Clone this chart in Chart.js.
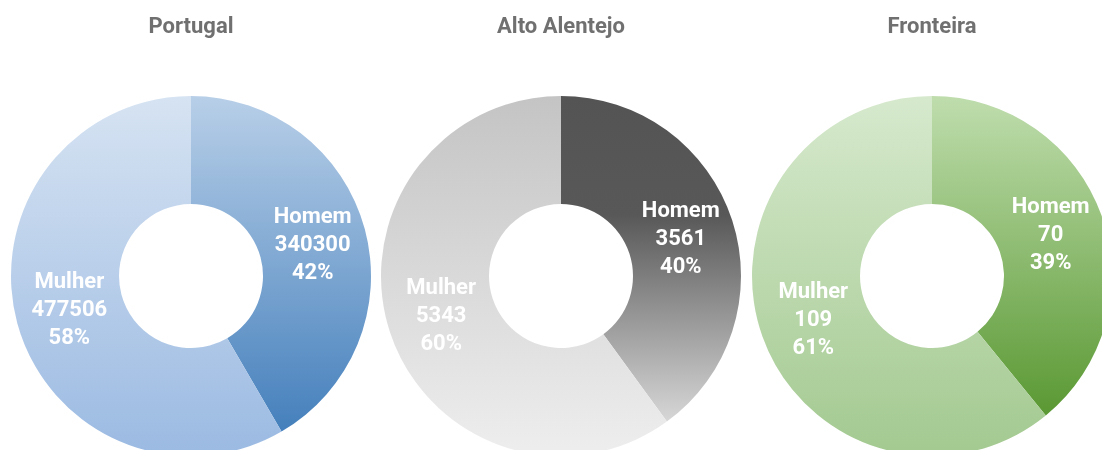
<!DOCTYPE html>
<html>
<head>
<meta charset="utf-8">
<script src="https://cdn.jsdelivr.net/npm/chart.js@4/dist/chart.umd.min.js"></script>
<style>
  html, body { margin: 0; padding: 0; background: #fff; overflow: hidden; width: 1102px; height: 450px; }
  .box { position: absolute; top: 0; width: 370px; height: 456px; }
  .box canvas { display: block; }
</style>
</head>
<body>
<div class="box" style="left:6px"><canvas id="chartPortugal" width="370" height="456"></canvas></div>
<div class="box" style="left:376px"><canvas id="chartAlentejo" width="370" height="456"></canvas></div>
<div class="box" style="left:747px"><canvas id="chartFronteira" width="370" height="456"></canvas></div>
<script>
// Population by sex for each area
const labels = ['Homem', 'Mulher'];
const portugal = [340300, 477506];
const altoAlentejo = [3561, 5343];
const fronteira = [70, 109];

// Vertical gradient stops per slice (Homem, Mulher)
const bluesHomem = [[0, '#b8cfe8'], [0.93, '#4580bc'], [1, '#4580bc']];
const bluesMulher = [[0, '#d6e3f2'], [1, '#9bbae2']];
const greysHomem = [[0, '#545454'], [0.33, '#585858'], [0.9, '#d6d6d6'], [1, '#dcdcdc']];
const greysMulher = [[0, '#c4c4c4'], [1, '#eeeeee']];
const greensHomem = [[0, '#bfddad'], [0.88, '#5b9934'], [1, '#5b9934']];
const greensMulher = [[0, '#d6e9cd'], [1, '#a3c990']];

function gradientFill(stopSets) {
    return function (ctx) {
        const chart = ctx.chart;
        const area = chart.chartArea;
        if (!area) return stopSets[ctx.dataIndex][0][1];
        const g = chart.ctx.createLinearGradient(0, area.top, 0, area.bottom);
        stopSets[ctx.dataIndex].forEach(s => g.addColorStop(s[0], s[1]));
        return g;
    };
}

// Writes label, value and percent on each slice
const sliceLabels = {
    id: 'sliceLabels',
    afterDatasetsDraw(chart) {
        const ctx = chart.ctx;
        const data = chart.data.datasets[0].data;
        const total = data.reduce((a, b) => a + b, 0);
        const meta = chart.getDatasetMeta(0);
        ctx.save();
        ctx.fillStyle = '#ffffff';
        ctx.font = 'bold 22px Roboto';
        ctx.textAlign = 'center';
        ctx.textBaseline = 'middle';
        meta.data.forEach((arc, i) => {
            const pos = arc.tooltipPosition();
            const lines = [chart.data.labels[i], String(data[i]), Math.round(data[i] / total * 100) + '%'];
            lines.forEach((t, k) => ctx.fillText(t, pos.x, pos.y + 2 + (k - 1) * 28));
        });
        ctx.restore();
    }
};

function makeDoughnut(id, title, values, stops) {
    new Chart(document.getElementById(id), {
        type: 'doughnut',
        data: {
            labels: labels,
            datasets: [{
                data: values,
                backgroundColor: gradientFill(stops),
                borderWidth: 0,
                hoverOffset: 0
            }]
        },
        options: {
            responsive: false,
            animation: false,
            radius: 180,
            cutout: 72,
            plugins: {
                legend: { display: false },
                tooltip: { enabled: false },
                title: {
                    display: true,
                    text: title,
                    color: '#707070',
                    font: { family: 'Roboto', size: 22, weight: 'bold', lineHeight: 1.2 },
                    padding: { top: 14, bottom: 55.6 }
                }
            }
        },
        plugins: [sliceLabels]
    });
}

makeDoughnut('chartPortugal', 'Portugal', portugal, [bluesHomem, bluesMulher]);
makeDoughnut('chartAlentejo', 'Alto Alentejo', altoAlentejo, [greysHomem, greysMulher]);
makeDoughnut('chartFronteira', 'Fronteira', fronteira, [greensHomem, greensMulher]);
</script>
</body>
</html>
